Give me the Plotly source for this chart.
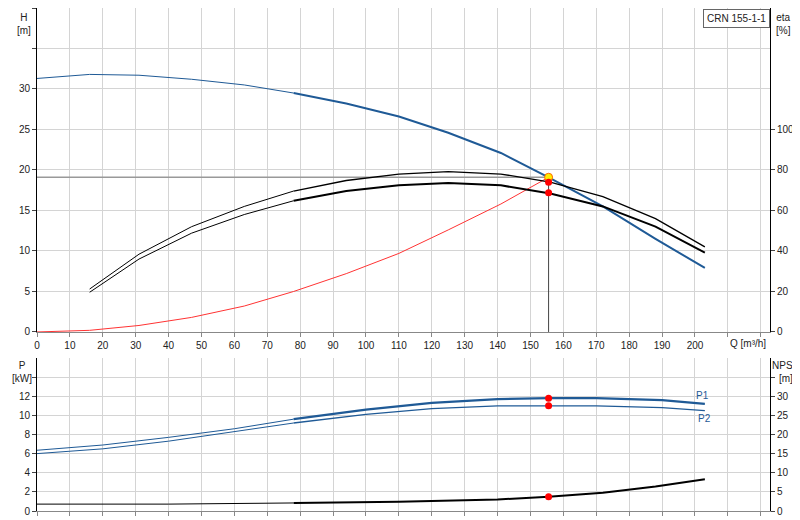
import plotly.graph_objects as go

# pump curve data (Q in m3/h)
q_h = [0, 16, 31, 47, 63, 78, 94, 110, 125, 141, 155.5, 172, 188, 203]
head = [31.3, 31.8, 31.7, 31.2, 30.5, 29.5, 28.2, 26.6, 24.6, 22.1, 19.1, 15.5, 11.5, 7.9]

q_eta = [16, 31, 47, 63, 78, 94, 110, 125, 141, 156, 172, 188, 203]
eta_upper = [21.2, 38.4, 52.0, 62.0, 69.6, 74.8, 78.0, 79.2, 78.0, 74.0, 66.8, 56.0, 42.0]
eta_lower = [19.6, 36.0, 48.8, 58.0, 64.8, 69.6, 72.4, 73.6, 72.4, 68.4, 62.0, 52.0, 39.2]

q_sys = [0, 16, 31, 47, 63, 78, 94, 110, 125, 141, 155.5]
h_sys = [0, 0.2, 0.8, 1.8, 3.2, 5.0, 7.2, 9.7, 12.6, 15.8, 19.1]

q_p = [0, 20, 40, 60, 78, 100, 120, 140, 155.5, 170, 190, 203]
p1 = [6.35, 6.9, 7.7, 8.6, 9.6, 10.6, 11.3, 11.7, 11.8, 11.8, 11.6, 11.2]
p2 = [6.0, 6.5, 7.3, 8.3, 9.2, 10.1, 10.7, 11.0, 11.0, 11.0, 10.8, 10.5]

q_npsh = [0, 40, 78, 110, 140, 155.5, 172, 188, 203]
npsh = [1.8, 1.8, 2.1, 2.4, 3.0, 3.7, 4.8, 6.4, 8.3]

q_duty = 155.5
h_duty = 19.1
eta_duty = [74.0, 68.8]
p_duty = [11.8, 11.0]
npsh_duty = 3.7

BLUE = "#1f5a96"
FONT = "Liberation Sans"


def split(xs, ys, at=78):
    # thin part before the allowed range, thick after
    lo = [(x, y) for x, y in zip(xs, ys) if x <= at]
    hi = [(x, y) for x, y in zip(xs, ys) if x >= at]
    return list(zip(*lo)), list(zip(*hi))


fig = go.Figure()


def add_curve(xs, ys, color, xa, ya, thick=2):
    lo, hi = split(xs, ys)
    if lo:
        fig.add_trace(go.Scatter(x=lo[0], y=lo[1], mode="lines", line=dict(color=color, width=1),
                                 xaxis=xa, yaxis=ya, hoverinfo="skip"))
    fig.add_trace(go.Scatter(x=hi[0], y=hi[1], mode="lines", line=dict(color=color, width=thick),
                             xaxis=xa, yaxis=ya, hoverinfo="skip"))


# duty point guide lines
fig.add_trace(go.Scatter(x=[0, q_duty], y=[h_duty, h_duty], mode="lines",
                         line=dict(color="#999999", width=1.3), xaxis="x", yaxis="y"))
fig.add_trace(go.Scatter(x=[q_duty, q_duty], y=[0, h_duty], mode="lines",
                         line=dict(color="#444444", width=1), xaxis="x", yaxis="y"))

add_curve(q_h, head, BLUE, "x", "y")
add_curve(q_eta, eta_upper, "black", "x", "y2", thick=1.3)
add_curve(q_eta, eta_lower, "black", "x", "y2")
fig.add_trace(go.Scatter(x=q_sys, y=h_sys, mode="lines", line=dict(color="#ff3333", width=1),
                         xaxis="x", yaxis="y"))
fig.add_trace(go.Scatter(x=[q_duty] * 2, y=eta_duty, mode="markers",
                         marker=dict(color="red", size=7), xaxis="x", yaxis="y2"))
fig.add_trace(go.Scatter(x=[q_duty], y=[h_duty], mode="markers",
                         marker=dict(color="#ffee00", size=8, line=dict(color="#ff6600", width=1)),
                         xaxis="x", yaxis="y"))

add_curve(q_p, p1, BLUE, "x2", "y3", thick=2.2)
add_curve(q_p, p2, BLUE, "x2", "y3", thick=1.3)
add_curve(q_npsh, npsh, "black", "x2", "y4")
fig.add_trace(go.Scatter(x=[q_duty] * 2, y=p_duty, mode="markers",
                         marker=dict(color="red", size=7), xaxis="x2", yaxis="y3"))
fig.add_trace(go.Scatter(x=[q_duty], y=[npsh_duty], mode="markers",
                         marker=dict(color="red", size=7), xaxis="x2", yaxis="y4"))

q_ticks = list(range(0, 230, 10))
q_text = [str(v) if v <= 200 else "" for v in q_ticks]
grid = "#d4d4d4"
ax_common = dict(showgrid=True, gridcolor=grid, zeroline=False, ticks="outside", ticklen=4,
                 automargin=False, tickfont=dict(size=10, color="#222"))
dx = [0.03625, 0.9525]

fig.update_layout(
    width=800, height=520, margin=dict(l=0, r=0, t=0, b=0),
    paper_bgcolor="white", plot_bgcolor="white", showlegend=False,
    font=dict(family=FONT, size=10, color="#222"),
    xaxis=dict(ax_common, domain=dx, range=[0, 222.8], tickvals=q_ticks, ticktext=q_text,
               anchor="y", showline=True, linecolor="#888", tickcolor="#888"),
    yaxis=dict(ax_common, domain=[0.377, 1], range=[0, 40], tickvals=list(range(0, 45, 5)),
               ticktext=[str(v) if v <= 30 else "" for v in range(0, 45, 5)],
               showline=True, linecolor="black", anchor="x"),
    yaxis2=dict(ax_common, overlaying="y", side="right", range=[0, 160], showgrid=False,
                tickvals=list(range(0, 120, 20)), showline=True, linecolor="black", anchor="x"),
    xaxis2=dict(ax_common, domain=dx, range=[0, 222.8], tickvals=q_ticks, showticklabels=False,
                anchor="y3", showline=True, linecolor="#888", tickcolor="#888"),
    yaxis3=dict(ax_common, domain=[0.0327, 0.327], range=[0, 16], tickvals=list(range(0, 16, 2)),
                ticktext=[str(v) if v <= 12 else "" for v in range(0, 16, 2)],
                showline=True, linecolor="black", anchor="x2"),
    yaxis4=dict(ax_common, overlaying="y3", side="right", range=[0, 40], showgrid=False,
                tickvals=list(range(0, 40, 5)), ticktext=[str(v) if v <= 30 else "" for v in range(0, 40, 5)],
                showline=True, linecolor="black", anchor="x2"),
    annotations=[
        dict(text="H<br>[m]", x=16, y=2, xanchor="center", yanchor="top", showarrow=False),
        dict(text="eta<br>[%]", x=775, y=2, xanchor="center", yanchor="top", showarrow=False),
        dict(text="Q [m³/h]", x=740, y=335, xanchor="center", yanchor="middle", showarrow=False),
        dict(text="P<br>[kW]", x=14, y=350, xanchor="center", yanchor="top", showarrow=False),
        dict(text="NPSH<br>[m]", x=778, y=350, xanchor="center", yanchor="top", showarrow=False),
        dict(text="P1", x=694, y=387, xanchor="center", yanchor="middle", showarrow=False,
             font=dict(color=BLUE, size=10)),
        dict(text="P2", x=696, y=410, xanchor="center", yanchor="middle", showarrow=False,
             font=dict(color=BLUE, size=10)),
        dict(text="CRN 155-1-1", x=728, y=10, xanchor="center", yanchor="middle", showarrow=False,
             bordercolor="#666", borderwidth=1, borderpad=3, bgcolor="white"),
    ],
)
# pixel placement for the text annotations
for a in fig.layout.annotations:
    a.xref = "paper"
    a.yref = "paper"
    a.x = a.x / 800
    a.y = 1 - a.y / 520

fig.write_html("out.html")
